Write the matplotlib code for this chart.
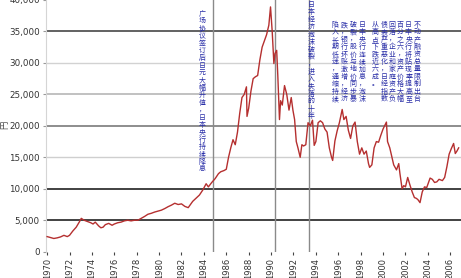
import matplotlib
matplotlib.use("Agg")
import matplotlib.pyplot as plt

# ── Data: Nikkei 225 ──────────────────────────────────────
years = [
    1970.0, 1970.3, 1970.6, 1970.9, 1971.2, 1971.5, 1971.8, 1972.0, 1972.3, 1972.6,
    1972.9, 1973.05, 1973.3, 1973.6, 1973.9, 1974.1, 1974.3, 1974.6, 1974.8, 1975.0,
    1975.2, 1975.5, 1975.8, 1976.0, 1976.3, 1976.6, 1976.9, 1977.2, 1977.5, 1977.8,
    1978.1, 1978.4, 1978.7, 1979.0, 1979.3, 1979.6, 1979.9, 1980.2, 1980.5, 1980.8,
    1981.1, 1981.4, 1981.7, 1982.0, 1982.3, 1982.6, 1982.8, 1983.0, 1983.3, 1983.6,
    1983.9, 1984.2, 1984.4, 1984.7, 1985.0, 1985.3, 1985.5, 1985.8, 1986.0, 1986.2,
    1986.4, 1986.6, 1986.8, 1987.0, 1987.2, 1987.4, 1987.6, 1987.8, 1987.85, 1988.0,
    1988.2, 1988.4, 1988.6, 1988.8, 1989.0, 1989.2, 1989.4, 1989.6, 1989.8, 1989.95,
    1990.1, 1990.25, 1990.35, 1990.5, 1990.6, 1990.75, 1990.85, 1991.0, 1991.2, 1991.4,
    1991.6, 1991.8, 1991.95, 1992.1, 1992.25, 1992.4, 1992.6, 1992.75, 1992.9, 1993.1,
    1993.3, 1993.5, 1993.7, 1993.85, 1994.0, 1994.2, 1994.4, 1994.6, 1994.8, 1995.0,
    1995.2, 1995.4, 1995.5, 1995.7, 1995.9, 1996.1, 1996.35, 1996.5, 1996.7, 1996.9,
    1997.1, 1997.3, 1997.5, 1997.7, 1997.9, 1998.1, 1998.3, 1998.5, 1998.7, 1998.8,
    1999.0, 1999.2, 1999.4, 1999.6, 1999.8, 2000.0, 2000.3, 2000.4, 2000.6, 2000.8,
    2000.95, 2001.2, 2001.4, 2001.5, 2001.7, 2001.85, 2002.0, 2002.2, 2002.4, 2002.6,
    2002.8, 2002.95, 2003.1, 2003.3, 2003.5, 2003.7, 2003.9, 2004.2, 2004.4, 2004.6,
    2004.8, 2005.0, 2005.3, 2005.5, 2005.7, 2005.9, 2006.1, 2006.3, 2006.45, 2006.6,
    2006.75,
]
values = [
    2400, 2250, 2100, 2200, 2350, 2600, 2400, 2600, 3300, 3900,
    4800, 5300, 5000, 4800, 4600, 4400, 4700, 4100, 3800, 3900,
    4300, 4500, 4200, 4400, 4600, 4700, 4900, 5000, 4900, 5000,
    5000, 5300, 5600, 5950, 6100, 6300, 6450, 6600, 6850, 7150,
    7400, 7700, 7500, 7600, 7200, 7000, 7500, 8000, 8500, 9000,
    9800, 10800, 10300, 11000, 11600, 12400, 12700, 12900, 13100, 15000,
    16500, 17800, 17000, 19000, 22000, 24500, 25000, 26200, 21500, 22800,
    25500, 27500, 27800, 28000, 30500, 32500, 33500, 34500, 36000, 38900,
    35000, 29900, 31500, 32000, 28000, 21000, 24000, 23300, 26400, 25000,
    22500, 24500, 22500, 21000, 17500, 16500, 15000, 17000, 16800, 17000,
    20500, 20000, 20900, 16900, 17500, 20500, 20800, 20500, 19500, 19000,
    16500, 15000, 14500, 17600, 19200, 20500, 22600, 21000, 21500, 19300,
    18000, 20000, 20600, 17500, 15500, 16500, 15500, 16000, 14000, 13400,
    13800, 16500, 17500, 17400, 18500, 19500, 20600, 17500, 16500, 15000,
    13800, 13000, 14000, 12500, 10000, 10500, 10300, 11800, 10600, 9500,
    8600, 8500, 8300, 7800, 9500, 10300, 10200, 11700, 11500, 11000,
    11100, 11500, 11300, 11800, 13500, 15500, 16400, 17200, 15600, 16000,
    16500,
]

year_ticks = list(range(1970, 2007, 2))
y_ticks = [0, 5000, 10000, 15000, 20000, 25000, 30000, 35000, 40000]
event_years = [1984.8, 1990.35, 1993.4]

note_1 = "广场协议签订后日元大幅升值，日本央行持续降息"
note_2 = "日本经济泡沫破裂，进入失落的十年"
block_1 = [
    "日本央行连续加息，泡沫",
    "破裂，股价与地价同步暴",
    "跌，银行坏账激增，经济",
    "陷入长期低迷，通缩持续",
]
block_2 = [
    "不动产融资总量限制出台",
    "日本央行将贴现率提高至",
    "百分之六，资产价格大幅",
    "回落，企业和家庭资产负",
    "债表严重恶化，日经指数",
    "从高点下跌近六成。",
]

W, H = 461, 278
CJK = ["Noto Sans CJK SC", "DejaVu Sans"]

fig = plt.figure(figsize=(W / 100, H / 100), dpi=100)
fig.patch.set_facecolor("white")
ax = fig.add_axes([46 / W, 26.3 / H, (W - 46) / W, 251.7 / H])

# ── Horizontal reference lines ────────────────────────────
grid_style = {
    5000: ("#333333", 1.3), 10000: ("#333333", 1.3), 15000: ("#cfcfcf", 1.0),
    20000: ("#7a7a7a", 1.2), 25000: ("#b0b0b0", 1.1), 30000: ("#d2d2d2", 1.0),
    35000: ("#555555", 1.3),
}
for yv, (c, lw) in grid_style.items():
    ax.axhline(yv, color=c, lw=lw, zorder=1)

for ev in event_years:
    ax.axvline(ev, color="#8a8a8a", lw=1.0, zorder=1)

ax.plot(years, values, color="#b52f2f", lw=1.0, zorder=3)

ax.set_xlim(1969.9, 2006.96)
ax.set_ylim(0, 40000)
ax.set_xticks(year_ticks)
ax.set_xticklabels([str(y) for y in year_ticks], rotation=90, fontsize=6, color="#333333")
ax.set_yticks(y_ticks)
ax.set_yticklabels([f"{v:,}" for v in y_ticks], fontsize=6.3, color="#333333")
ax.tick_params(axis="x", length=2.5, width=0.8, pad=2, color="#444444")
ax.tick_params(axis="y", length=2.5, width=0.8, pad=2, color="#999999")

for side in ["top", "right", "bottom"]:
    ax.spines[side].set_visible(False)
ax.spines["left"].set_color("#d5d5d5")
ax.spines["left"].set_linewidth(0.8)

fig.text(5 / W, 1 - 125 / H, "円", rotation=90, fontsize=6, color="#444444",
         ha="center", va="center", family=CJK)


# ── Vertical Chinese notes ────────────────────────────────
def vcol(x, y_top, s, size=5.0):
    fig.text(x / W, 1 - y_top / H, "\n".join(s), ha="center", va="top",
             fontsize=size, linespacing=0.9, color="#2a2fa8", family=CJK)


vcol(202, 10, note_1)
vcol(311, 1, note_2)
for i, col in enumerate(block_1):
    vcol(362 - i * 9, 21, col)
for i, col in enumerate(block_2):
    vcol(417 - i * 8.3, 21, col)

fig.savefig("out.png", dpi=100, facecolor="white")
